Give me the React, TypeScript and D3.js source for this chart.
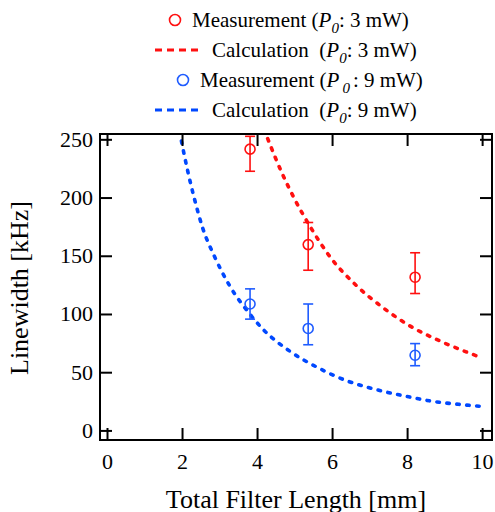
import React from "react";
import * as d3 from "d3";

const xTicks = [0, 2, 4, 6, 8, 10];
const yTicks = [0, 50, 100, 150, 200, 250];

const measX = [3.8, 5.35, 8.2];
const red3Y = [242, 160, 132];
const red3Lo = [223, 138, 118];
const red3Hi = [253, 179, 153];
const blue9Y = [109, 88, 65];
const blue9Lo = [96, 74, 56];
const blue9Hi = [122, 109, 75];

const calcRedX = [4.27, 4.63, 4.99, 5.43, 5.92, 6.63, 7.34, 8.05, 8.85, 9.61, 10];
const calcRedY = [251, 223, 199, 174, 150, 125, 106, 90.4, 77.4, 67.3, 62.5];
const calcBlueX = [1.97, 2.14, 2.32, 2.54, 2.85, 3.25, 3.79, 4.14, 4.85, 5.61, 6.36, 7.16, 7.96, 8.67, 9.47, 10];
const calcBlueY = [249, 223, 199, 174, 150, 125, 100.5, 87.5, 68.7, 54.3, 43.3, 35.5, 29.7, 25.4, 22.5, 21];

const RED = "#ff1010";
const BLUE = "#0048ff";
const BLUE_M = "#1f5cff";
const FONT = "Liberation Serif";
const TS: React.CSSProperties = { fontFamily: FONT };

export default function App() {
  const L = 100, R = 492, T = 134, B = 440;
  const x = d3.scaleLinear().domain([-0.2, 10.25]).range([L, R]);
  const y = d3.scaleLinear().domain([-7.8, 255]).range([B, T]);
  const line = d3.line<[number, number]>().x(d => x(d[0])).y(d => y(d[1])).curve(d3.curveMonotoneX);
  const redPts = calcRedX.map((v, i) => [v, calcRedY[i]] as [number, number]);
  const bluePts = calcBlueX.map((v, i) => [v, calcBlueY[i]] as [number, number]);
  const tl = 12;

  const errBars = (ys: number[], lo: number[], hi: number[], color: string) =>
    measX.map((mx, i) => {
      const cx = x(mx);
      return (
        <g key={i} stroke={color} strokeWidth={1.6} fill="none">
          <line x1={cx} x2={cx} y1={y(lo[i])} y2={y(hi[i])} />
          <line x1={cx - 5} x2={cx + 5} y1={y(lo[i])} y2={y(lo[i])} />
          <line x1={cx - 5} x2={cx + 5} y1={y(hi[i])} y2={y(hi[i])} />
          <circle cx={cx} cy={y(ys[i])} r={5} fill="none" />
        </g>
      );
    });

  const P0 = (gap: boolean) => (
    <>
      <tspan fontStyle="italic">P</tspan>
      <tspan fontStyle="italic" fontSize={15} dy={6} dx={gap ? 3 : 0}>0</tspan>
      <tspan dy={-6} dx={gap ? 3 : 0}>:</tspan>
    </>
  );

  return (
    <svg width={495} height={512} style={{ position: "absolute", left: 0, top: 0, fontFamily: FONT }}>
      <defs>
        <clipPath id="plot">
          <rect x={L} y={T} width={R - L} height={B - T} />
        </clipPath>
      </defs>
      {/* legend */}
      <g fontSize={21} fill="black">
        <circle cx={175} cy={20} r={5.5} stroke={RED} strokeWidth={1.6} fill="none" />
        <text x={192} y={27} style={TS}>Measurement ({P0(false)} 3 mW)</text>
        <line x1={155} x2={198} y1={50} y2={50} stroke={RED} strokeWidth={3} strokeDasharray="7,5" />
        <text x={212} y={57} style={{ ...TS, whiteSpace: "pre" }}>{"Calculation  ("}{P0(false)} 3 mW)</text>
        <circle cx={183} cy={80} r={5.5} stroke={BLUE_M} strokeWidth={1.6} fill="none" />
        <text x={200} y={87} style={TS}>Measurement ({P0(true)} 9 mW)</text>
        <line x1={155} x2={198} y1={110} y2={110} stroke={BLUE} strokeWidth={3} strokeDasharray="7,5" />
        <text x={212} y={117} style={{ ...TS, whiteSpace: "pre" }}>{"Calculation  ("}{P0(false)} 9 mW)</text>
      </g>
      {/* curves */}
      <g clipPath="url(#plot)" fill="none" strokeLinecap="round">
        <path d={line(bluePts) || ""} stroke={BLUE} strokeWidth={3.6} strokeDasharray="2.5,7.5" />
        <path d={line(redPts) || ""} stroke={RED} strokeWidth={3.6} strokeDasharray="2.5,7.5" />
      </g>
      {errBars(red3Y, red3Lo, red3Hi, RED)}
      {errBars(blue9Y, blue9Lo, blue9Hi, BLUE_M)}
      {/* frame & ticks */}
      <g stroke="black" strokeWidth={2} fill="none">
        <rect x={L} y={T} width={R - L} height={B - T} />
        {xTicks.map(t => (
          <g key={"x" + t}>
            <line x1={x(t)} x2={x(t)} y1={B} y2={B - tl} />
            <line x1={x(t)} x2={x(t)} y1={T} y2={T + tl} />
          </g>
        ))}
        {yTicks.map(t => (
          <g key={"y" + t}>
            <line x1={L} x2={L + tl} y1={y(t)} y2={y(t)} />
            <line x1={R} x2={R - tl} y1={y(t)} y2={y(t)} />
          </g>
        ))}
      </g>
      <g fontSize={22} fill="black">
        {xTicks.map(t => (
          <text key={"xl" + t} x={x(t)} y={469} textAnchor="middle" style={TS}>{t}</text>
        ))}
        {yTicks.map(t => (
          <text key={"yl" + t} x={93} y={y(t) + 7} textAnchor="end" style={TS}>{t}</text>
        ))}
      </g>
      <text x={296} y={508} fontSize={26} textAnchor="middle" style={TS}>Total Filter Length [mm]</text>
      <text transform={`translate(28,288) rotate(-90)`} fontSize={26} textAnchor="middle" style={TS}>Linewidth [kHz]</text>
    </svg>
  );
}
